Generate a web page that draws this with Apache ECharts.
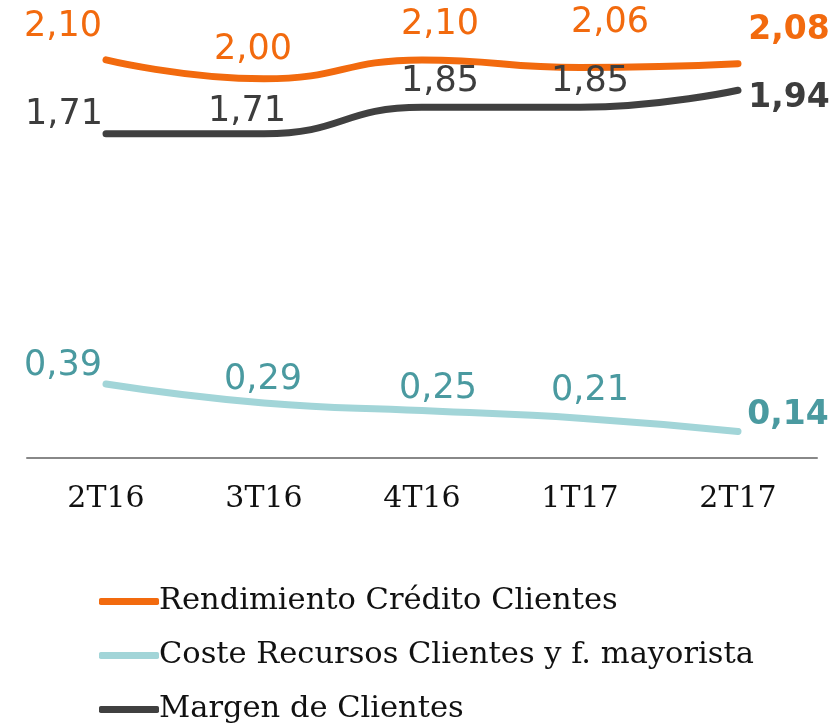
<!DOCTYPE html>
<html><head><meta charset="utf-8">
<script src="https://cdn.jsdelivr.net/npm/echarts@6/dist/echarts.min.js"></script>
<style>html,body{margin:0;padding:0;background:#fff}#c{width:840px;height:725px}</style>
</head><body><div id="c"></div>
<script>
const categories = ['2T16','3T16','4T16','1T17','2T17'];
const rendimiento = [2.10, 2.00, 2.10, 2.06, 2.08];
const coste = [0.39, 0.29, 0.25, 0.21, 0.14];
const margen = [1.71, 1.71, 1.85, 1.85, 1.94];
const seriesNames = ['Rendimiento Crédito Clientes','Coste Recursos Clientes y f. mayorista','Margen de Clientes'];

// label placement (style, not data)
const offsR = [[-43,-33],[-11,-29],[18,-35],[30,-45],[51,-33]];
const offsC = [[-43,-18],[-1,-23],[16,-22],[10,-27],[50,-16]];
const offsM = [[-42,-19],[-17,-22],[18,-25],[10,-25],[51,8]];

function fmt(v){ return v.toFixed(2).replace('.', ','); }
function build(vals, offs, color){
  return vals.map((v,i)=>({
    value: v,
    label: {
      show: true, position: 'inside', offset: offs[i],
      formatter: fmt(v), color: color,
      fontFamily: 'DejaVu Sans',
      fontSize: i === vals.length-1 ? 33 : 35,
      fontWeight: i === vals.length-1 ? 'bold' : 'normal'
    }
  }));
}
function mk(name, vals, offs, lineColor, labelColor){
  return {
    name, type: 'line', smooth: 0.5, symbol: 'circle', symbolSize: 2,
    itemStyle: {color: lineColor},
    lineStyle: {color: lineColor, width: 7, cap: 'round'},
    data: build(vals, offs, labelColor), z: 3
  };
}
const chart = echarts.init(document.getElementById('c'), null, {renderer:'canvas'});
chart.setOption({
  animation: false,
  backgroundColor: '#fff',
  grid: {left: 27, right: 23, top: 3, bottom: 267},
  xAxis: {
    type: 'category', data: categories, boundaryGap: true,
    axisLine: {lineStyle: {color: '#888', width: 2}},
    axisTick: {show: false},
    axisLabel: {color: '#111', fontFamily: 'DejaVu Serif', fontSize: 30, margin: 26}
  },
  yAxis: {type: 'value', min: 0, max: 2.4, show: false, splitLine: {show: false}},
  legend: {
    orient: 'vertical', left: 99, top: 586, itemGap: 23, height: 300,
    itemWidth: 60, itemHeight: 7, icon: 'roundRect', padding: 0,
    textStyle: {fontFamily: 'DejaVu Serif', fontSize: 30.5, lineHeight: 30, color: '#111', padding: [0,0,0,-5]},
    data: seriesNames
  },
  series: [
    mk(seriesNames[0], rendimiento, offsR, '#f26a0e', '#f26a0e'),
    mk(seriesNames[1], coste, offsC, '#a2d5d8', '#4a9aa0'),
    mk(seriesNames[2], margen, offsM, '#404040', '#3d3d3d')
  ]
});
</script></body></html>
